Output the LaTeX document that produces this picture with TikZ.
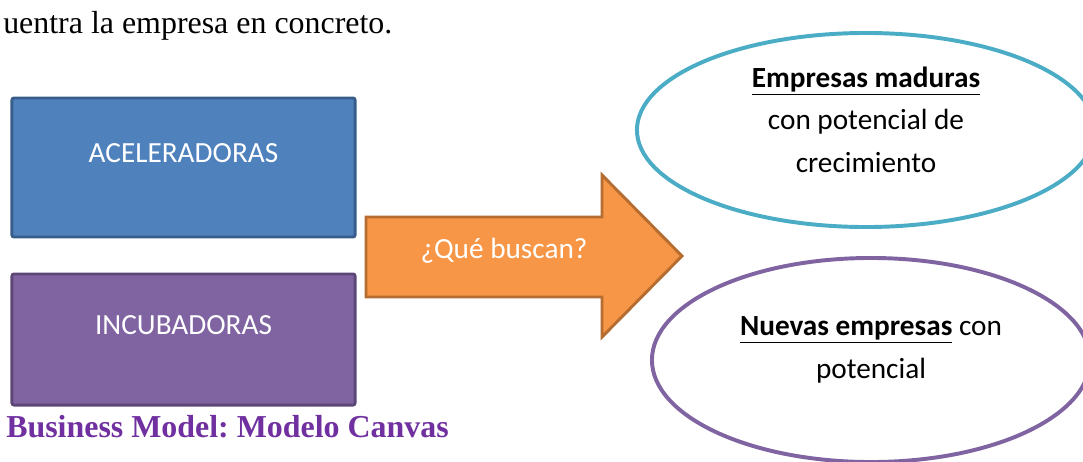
\documentclass[tikz,border=0pt]{standalone}
\usepackage{fontspec}
\setmainfont{Liberation Serif}
\newfontfamily\carlito{Carlito}
\usepackage{tikz}
\usetikzlibrary{shapes,positioning}
\frenchspacing
\tikzset{
caja/.style= {rectangle, rounded corners=1.5pt, line width=2.1pt, inner sep=0pt},
blanco/.style= {text=white, font=\carlito\fontsize{20.8}{24}\selectfont, anchor=base, inner sep=0pt},
ovalo/.style= {ellipse, line width=2.8pt, fill=white, inner sep=0pt},
negro/.style= {text=black, font=\carlito\fontsize{20.8}{30}\selectfont, align=center, anchor=base, inner sep=0pt},
serif/.style= {font=\fontsize{22.7}{27}\selectfont, anchor=base west, inner sep=0pt}
}
\definecolor{Azul}{HTML}{4F81BD}
\definecolor{AzulBorde}{HTML}{385D8A}
\definecolor{Morado}{HTML}{8064A2}
\definecolor{MoradoBorde}{HTML}{5C4776}
\definecolor{Naranja}{HTML}{F79646}
\definecolor{NaranjaBorde}{HTML}{B66D31}
\definecolor{Turquesa}{HTML}{4BACC6}
\definecolor{Titulo}{HTML}{7030A0}

\begin{document}
\begin{tikzpicture}[x=0.025cm, y=-0.025cm]
    \useasboundingbox (0,0) rectangle (1083,461);
    \clip (0,0) rectangle (1083,461);

    \node[serif] (frase) at (3,33) {uentra la empresa en concreto.};

    \node[caja, fill=Azul, draw=AzulBorde, minimum width=8.575cm, minimum height=3.475cm] (acel) at (183.5,167.5) {};
    \node[blanco] (aceltxt) at (183.5,162) {ACELERADORAS};
    \node[caja, fill=Morado, draw=MoradoBorde, minimum width=8.575cm, minimum height=3.275cm] (incu) at (183.5,339.5) {};
    \node[blanco] (incutxt) at (183.5,334) {INCUBADORAS};

    \draw[line width=2.1pt, fill=Naranja, draw=NaranjaBorde, line join=miter]
        (366,217) -- (602,217) -- (602,175) -- (682,256) -- (602,337) -- (602,297) -- (366,297) -- cycle;
    \node[blanco] (pregunta) at (504,258) {¿Qué buscan?};

    \node[ovalo, draw=Turquesa, minimum width=11.45cm, minimum height=4.85cm] (maduras) at (866,130) {};
    \node[negro] (madurastxt) at (866,172) {\textbf{\underline{Empresas maduras}}\\con potencial de\\crecimiento};
    \node[ovalo, draw=Morado, minimum width=10.95cm, minimum height=5.1cm] (nuevas) at (871,360) {};
    \node[negro] (nuevastxt) at (871,378) {\textbf{\underline{Nuevas empresas}} con\\potencial};

    \node[serif, text=Titulo, font=\bfseries\fontsize{22.7}{27}\selectfont] (titulo) at (6,437) {Business Model: Modelo Canvas};
\end{tikzpicture}
\end{document}
